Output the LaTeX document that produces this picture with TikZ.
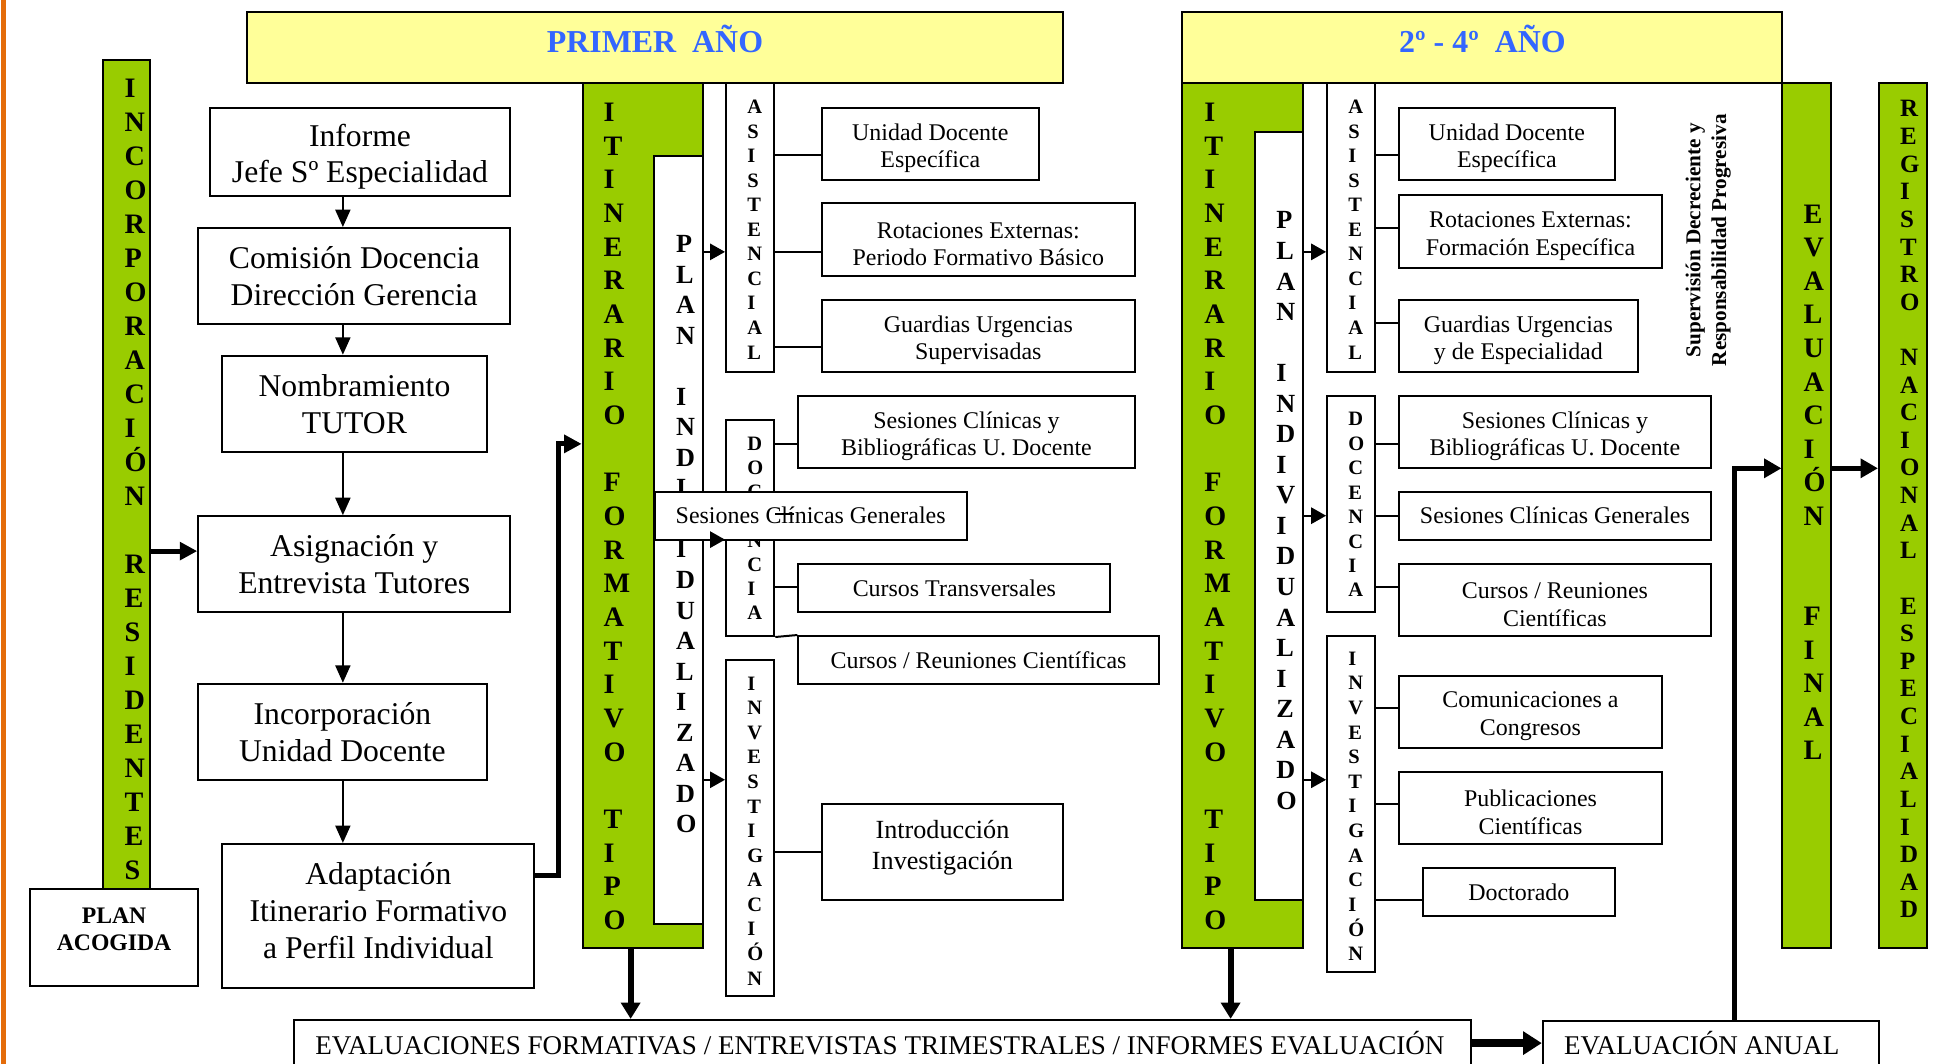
\documentclass[tikz,border=0pt]{standalone}
\usepackage{fontspec}
\setmainfont{Liberation Serif}
\usetikzlibrary{arrows.meta}

\definecolor{barGreen}{HTML}{99CC00}
\definecolor{headYellow}{HTML}{FFFF99}
\definecolor{headBlue}{HTML}{3366FF}
\definecolor{edgeOrange}{HTML}{E46C0A}

% one capital letter per line, left aligned, given baseline of the first line and the pitch
\newcommand\letterstack[6]{%
  \foreach \c [count=\i from 0] in {#6}{%
    \node[#2, anchor=base west] (#1-\i) at (#3,{#4+\i*#5}) {\c};}}

\begin{document}
\begin{tikzpicture}[
  x=0.5pt, y=-0.5pt,
  rect/.style args={#1/#2/#3/#4}{at={({(#1+#3)/2},{(#2+#4)/2})},
    minimum width={(#3-#1)*0.5pt}, minimum height={(#4-#2)*0.5pt}},
  frame/.style={draw=black, line width=0.8pt, inner sep=0pt},
  whitebox/.style={frame, fill=white},
  flowbox/.style={whitebox, align=center, font=\fontsize{12.7}{14.8}\selectfont},
  flowtext/.style={align=center, inner sep=0pt, font=\fontsize{12.7}{14.8}\selectfont},
  itembox/.style={whitebox, align=center, font=\fontsize{9.6}{11}\selectfont},
  twoline/.style={label={[align=center, inner sep=0pt, yshift=-1.8pt,
    font=\fontsize{9.6}{11}\selectfont]center:{#1}}},
  greenbar/.style={frame, fill=barGreen},
  headbox/.style={frame, fill=headYellow},
  headtext/.style={inner sep=0pt, anchor=base, text=headBlue,
    font=\fontsize{12.8}{15}\selectfont\bfseries},
  bigletter/.style={inner sep=0pt, font=\fontsize{11.3}{13}\selectfont\bfseries},
  planletter/.style={inner sep=0pt, font=\fontsize{10.5}{12}\selectfont\bfseries},
  smallletter/.style={inner sep=0pt, font=\fontsize{8.2}{9.5}\selectfont\bfseries},
  regletter/.style={inner sep=0pt, font=\fontsize{10}{11}\selectfont\bfseries},
  bottomtext/.style={inner sep=0pt, font=\fontsize{10.85}{12}\selectfont},
  link/.style={line width=0.8pt},
  flowarrow/.style={line width=0.9pt, -{Triangle[length=7pt,width=6pt]}},
  planarrow/.style={line width=0.9pt, -{Triangle[length=6pt,width=6.5pt]}},
  boldarrow/.style={line width=2pt, line join=miter, -{Triangle[length=7pt,width=7pt]}},
  downarrow/.style={line width=2.5pt, -{Triangle[length=6.5pt,width=7.5pt]}},
  wideline/.style={line width=2.2pt, line join=miter, -{Triangle[length=7pt,width=7.5pt]}},
  widearrow/.style={line width=3pt, -{Triangle[length=7.5pt,width=9pt]}}
]
\useasboundingbox (0,0) rectangle (1568,853);
\clip (0,0) rectangle (1568,853);

% page edge
\draw[edgeOrange, line width=2pt] (2.8,0) -- (2.8,853);

% ---------- headers ----------
\node[headbox, rect=198/9.3/852.6/66.5] (head1) {};
\node[headtext] (head1-t) at (525.3,42.2) {PRIMER\ \ AÑO};
\node[headbox, rect=948.3/9.3/1429.6/66.5] (head2) {};
\node[headtext] (head2-t) at (1189,42.2) {2º - 4º\ \ AÑO};

% ---------- vertical bars ----------
\node[greenbar, rect=82.4/47.8/120.7/713.2] (incres) {};
\node[greenbar, rect=467.3/66.5/563.7/760] (itin1) {};
\node[whitebox, rect=524.8/125/563.7/741] (plan1) {};
\node[greenbar, rect=948.3/66.5/1044.7/760] (itin2) {};
\node[whitebox, rect=1006.8/106.1/1044.7/721.5] (plan2) {};
\node[greenbar, rect=1429.6/66.5/1468.4/760] (evfin) {};
\node[greenbar, rect=1507/66.5/1545.4/760] (reg) {};

\node[whitebox, rect=582.3/66.5/621/298.2] (asis1) {};
\node[whitebox, rect=582.3/336.5/621/510.1] (doc1) {};
\node[whitebox, rect=582.3/529.4/621/798.6] (inv1) {};
\node[whitebox, rect=1064.4/66.5/1102.4/298.2] (asis2) {};
\node[whitebox, rect=1064.4/317.4/1102.4/490.8] (doc2) {};
\node[whitebox, rect=1064.4/510.1/1102.4/779.3] (inv2) {};

% ---------- stacked lettering (first-year PLAN and DOCENCIA run under the overlapping box) ----------
\letterstack{incl}{bigletter}{99.5}{77.8}{27.3}{I,N,C,O,R,P,O,R,A,C,I,Ó,N,{},R,E,S,I,D,E,N,T,E,S}
\letterstack{itl1}{bigletter}{483.7}{97.5}{27.0}{I,T,I,N,E,R,A,R,I,O,{},F,O,R,M,A,T,I,V,O,{},T,I,P,O}
\letterstack{itl2}{bigletter}{965.6}{97.5}{27.0}{I,T,I,N,E,R,A,R,I,O,{},F,O,R,M,A,T,I,V,O,{},T,I,P,O}
\letterstack{pll1}{planletter}{541.8}{202.5}{24.5}{P,L,A,N,{},I,N,D,I,{},I,D,U,A,L,I,Z,A,D,O}
\letterstack{pll2}{planletter}{1023.3}{183.6}{24.5}{P,L,A,N,{},I,N,D,I,V,I,D,U,A,L,I,Z,A,D,O}
\letterstack{asl1}{smallletter}{599}{91}{19.7}{A,S,I,S,T,E,N,C,I,A,L}
\letterstack{asl2}{smallletter}{1081}{91}{19.7}{A,S,I,S,T,E,N,C,I,A,L}
\letterstack{dcl1}{smallletter}{599}{361.4}{19.4}{D,O,C,{},N,C,I,A}
\letterstack{dcl2}{smallletter}{1081}{341.6}{19.6}{D,O,C,E,N,C,I,A}
\letterstack{ivl1}{smallletter}{599}{553.6}{19.7}{I,N,V,E,S,T,I,G,A,C,I,Ó,N}
\letterstack{ivl2}{smallletter}{1081}{533.4}{19.77}{I,N,V,E,S,T,I,G,A,C,I,Ó,N}
\letterstack{efl}{bigletter}{1446.1}{179.1}{26.9}{E,V,A,L,U,A,C,I,Ó,N,{},{},F,I,N,A,L}
\letterstack{rgl}{regletter}{1523.6}{93.8}{22.15}{R,E,G,I,S,T,R,O,{},N,A,C,I,O,N,A,L,{},E,S,P,E,C,I,A,L,I,D,A,D}

% ---------- reception flow (left) ----------
\node[whitebox, rect=168.3/86.4/409.2/157,
  label={[flowtext, name=inf-t, yshift=-2pt]center:{Informe\\Jefe Sº Especialidad}}] (inf) {};
\node[flowbox, rect=159/182.9/409.2/259.7] (com) {Comisión Docencia\\Dirección Gerencia};
\node[flowbox, rect=178.3/285.3/390.3/362.4] (nom) {Nombramiento\\TUTOR};
\node[flowbox, rect=159/414/409.2/490.8] (asig) {Asignación y\\Entrevista Tutores};
\node[flowbox, rect=159/548.4/390.3/625.4] (incu) {Incorporación\\Unidad Docente};
\node[whitebox, rect=178.3/676.9/428.6/792.3,
  label={[flowtext, name=adap-t, yshift=2pt]center:{Adaptación\\Itinerario Formativo\\a Perfil Individual}}] (adap) {};
\node[whitebox, rect=24/713.2/159/790.5,
  label={[name=acog-t, align=center, inner sep=0pt, yshift=3.2pt,
    font=\fontsize{9.5}{11.1}\selectfont\bfseries]center:{PLAN\\ACOGIDA}}] (acog) {};

\coordinate (flowx) at (275,0);
\draw[flowarrow] (inf.south -| flowx) -- (com.north -| flowx);
\draw[flowarrow] (com.south -| flowx) -- (nom.north -| flowx);
\draw[flowarrow] (nom.south -| flowx) -- (asig.north -| flowx);
\draw[flowarrow] (asig.south -| flowx) -- (incu.north -| flowx);
\draw[flowarrow] (incu.south -| flowx) -- (adap.north -| flowx);

\coordinate (asigy) at (0,442);
\draw[boldarrow] (incres.east |- asigy) -- (asig.west |- asigy);
\coordinate (adapy) at (0,702.5);
\coordinate (itiny) at (0,356);
\coordinate (elbowx) at (447.6,0);
\draw[boldarrow] (adap.east |- adapy) -| (elbowx |- itiny) -- (itin1.west |- itiny);

% ---------- first year items ----------
\node[whitebox, rect=659.3/86.4/833/144.4, twoline={Unidad Docente\\Específica}] (ude1) {};
\node[whitebox, rect=659.3/163/910/221.4, twoline={Rotaciones Externas:\\Periodo Formativo Básico}] (rot1) {};
\node[whitebox, rect=659.3/240.6/910/298.2, twoline={Guardias Urgencias\\Supervisadas}] (gua1) {};
\node[whitebox, rect=640.3/317.4/910/375, twoline={Sesiones Clínicas y\\Bibliográficas U. Docente}] (ses1) {};
\node[itembox, rect=640.3/452.4/890.6/490.8] (ctr1) {Cursos Transversales};
\node[itembox, rect=640.3/510.1/929.3/548.8] (cur1) {Cursos / Reuniones Científicas};
\node[whitebox, rect=659.3/644.9/852.5/721.5,
  label={[name=intro1-t, align=center, inner sep=0pt, yshift=1.8pt,
    font=\fontsize{10.5}{12.4}\selectfont]center:{Introducción\\Investigación}}] (intro1) {};
\node[itembox, rect=525/394.5/775.4/432.7] (sgen1) {Sesiones Clínicas Generales};

\foreach \n/\yy in {ude1/124.7, rot1/202, gua1/278.6}
  \draw[link] (asis1.east |- 0,\yy) -- (\n.west |- 0,\yy);
\foreach \n/\yy in {ses1/356, ctr1/471.1}
  \draw[link] (doc1.east |- 0,\yy) -- (\n.west |- 0,\yy);
\draw[link] (doc1.south east) -- (cur1.north west);
\coordinate (sgenlink) at (637,412);
\draw[link] (doc1.east |- sgenlink) -- (sgenlink);
\draw[link] (inv1.east |- 0,683.2) -- (intro1.west |- 0,683.2);

\draw[planarrow] (plan1.east |- 0,202) -- (asis1.west |- 0,202);
\draw[planarrow] (plan1.east |- 0,432.8) -- (doc1.west |- 0,432.8);
\draw[planarrow] (plan1.east |- 0,625.4) -- (inv1.west |- 0,625.4);

% ---------- second to fourth year items ----------
\node[whitebox, rect=1121.7/86.4/1295.4/144.4, twoline={Unidad Docente\\Específica}] (ude2) {};
\node[whitebox, rect=1121.7/156.7/1333.3/215, twoline={Rotaciones Externas:\\Formación Específica}] (rot2) {};
\node[whitebox, rect=1121.7/240.6/1313.9/298.2, twoline={Guardias Urgencias\\y de Especialidad}] (gua2) {};
\node[whitebox, rect=1121.7/317.4/1372.5/375, twoline={Sesiones Clínicas y\\Bibliográficas U. Docente}] (ses2) {};
\node[itembox, rect=1121.7/394.5/1372.5/432.7] (sgen2) {Sesiones Clínicas Generales};
\node[whitebox, rect=1121.7/452.4/1372.5/510.1, twoline={Cursos / Reuniones\\Científicas}] (cur2) {};
\node[whitebox, rect=1121.7/542.1/1333.3/599.8, twoline={Comunicaciones a\\Congresos}] (cong2) {};
\node[whitebox, rect=1121.7/618.9/1333.3/677.1, twoline={Publicaciones\\Científicas}] (pub2) {};
\node[itembox, rect=1141/695.9/1295.4/734.8] (doct2) {Doctorado};

\foreach \n/\yy in {ude2/124.7, rot2/182.9, gua2/259.4}
  \draw[link] (asis2.east |- 0,\yy) -- (\n.west |- 0,\yy);
\foreach \n/\yy in {ses2/356, sgen2/413.6, cur2/471.1}
  \draw[link] (doc2.east |- 0,\yy) -- (\n.west |- 0,\yy);
\foreach \n/\yy in {cong2/567.8, pub2/644.9, doct2/721.5}
  \draw[link] (inv2.east |- 0,\yy) -- (\n.west |- 0,\yy);

\draw[planarrow] (plan2.east |- 0,202) -- (asis2.west |- 0,202);
\draw[planarrow] (plan2.east |- 0,413.6) -- (doc2.west |- 0,413.6);
\draw[planarrow] (plan2.east |- 0,625.4) -- (inv2.west |- 0,625.4);

\node[inner sep=0pt, rotate=90, align=center,
  font=\fontsize{8.5}{10.3}\selectfont\bfseries] (superv) at (1370,192.7)
  {Supervisión Decreciente y\\Responsabilidad Progresiva};

% ---------- evaluation ----------
\node[whitebox, rect=235.6/818/1179.7/858] (evf) {};
\node[bottomtext, anchor=base west] (evf-t) at (252.6,845.6)
  {EVALUACIONES FORMATIVAS / ENTREVISTAS TRIMESTRALES / INFORMES EVALUACIÓN};
\node[whitebox, rect=1237.4/819/1507/858] (anual) {};
\node[bottomtext, anchor=base west] (anual-t) at (1254,845.6) {EVALUACIÓN ANUAL};

\draw[downarrow] (itin1.south -| 505.8,0) -- (evf.north -| 505.8,0);
\draw[downarrow] (itin2.south -| 987,0) -- (evf.north -| 987,0);
\coordinate (evaly) at (0,836.6);
\draw[widearrow] (evf.east |- evaly) -- (anual.west |- evaly);
\coordinate (finy) at (0,375.6);
\coordinate (anualx) at (1391,0);
\draw[wideline] (anual.north -| anualx) |- (evfin.west |- finy);
\draw[wideline] (evfin.east |- finy) -- (reg.west |- finy);

\end{tikzpicture}
\end{document}
